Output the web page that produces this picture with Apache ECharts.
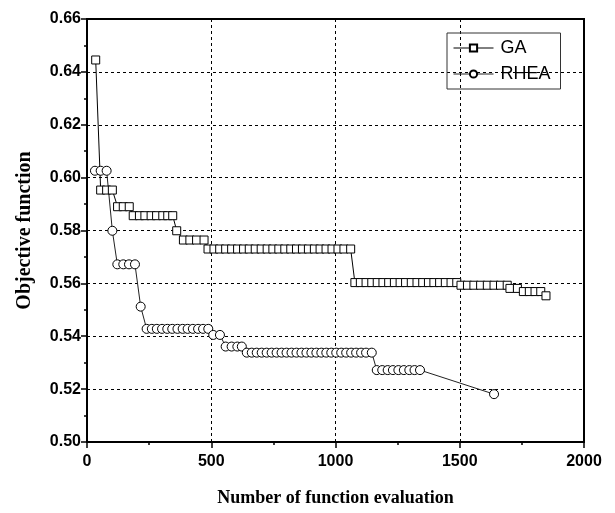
<!DOCTYPE html>
<html>
<head>
<meta charset="utf-8">
<script src="https://cdn.jsdelivr.net/npm/echarts@6/dist/echarts.min.js"></script>
<style>html,body{margin:0;padding:0;background:#fff}#c{width:615px;height:513px}</style>
</head>
<body>
<div id="c"></div>
<script>
var gaX = [35, 55, 79, 102, 123, 146, 170, 186, 211, 233, 258, 280, 305, 325, 345, 361, 388, 414, 441, 471,
  487, 511, 534, 558, 582, 606, 630, 653, 677, 701, 725, 748, 772, 796, 820, 843, 867, 891, 915, 938, 962, 986, 1010, 1034, 1061,
  1078, 1100, 1123, 1146, 1168, 1191, 1214, 1237, 1260, 1282, 1305, 1328, 1351, 1374, 1396, 1419, 1442, 1465, 1488,
  1505, 1531, 1557, 1584, 1611, 1638, 1664, 1691, 1702, 1732, 1756, 1780, 1803, 1826, 1847];
var gaY = [0.6445, 0.5953, 0.5953, 0.5953, 0.5890, 0.5890, 0.5890,
  0.5856, 0.5856, 0.5856, 0.5856, 0.5856, 0.5856, 0.5856, 0.5856, 0.5799, 0.5764, 0.5764, 0.5764, 0.5764,
  0.5730, 0.5730, 0.5730, 0.5730, 0.5730, 0.5730, 0.5730, 0.5730, 0.5730, 0.5730, 0.5730, 0.5730, 0.5730,
  0.5730, 0.5730, 0.5730, 0.5730, 0.5730, 0.5730, 0.5730, 0.5730, 0.5730, 0.5730, 0.5730, 0.5730,
  0.5603, 0.5603, 0.5603, 0.5603, 0.5603, 0.5603, 0.5603, 0.5603, 0.5603, 0.5603, 0.5603, 0.5603, 0.5603,
  0.5603, 0.5603, 0.5603, 0.5603, 0.5603, 0.5603,
  0.5593, 0.5593, 0.5593, 0.5593, 0.5593, 0.5593, 0.5593, 0.5593, 0.5581, 0.5581,
  0.5569, 0.5569, 0.5569, 0.5569, 0.5553];
var rheaX = [32, 55, 79, 102, 122, 146, 169, 193, 216,
  240, 261, 281, 302, 323, 343, 364, 385, 405, 426, 447, 467, 488, 508, 535, 558, 582, 605, 623,
  643, 663, 683, 703, 723, 743, 763, 783, 803, 823, 843, 863, 883, 903, 923, 943, 963, 983, 1003, 1023, 1043, 1063, 1083, 1103, 1123, 1146,
  1166, 1188, 1210, 1231, 1253, 1275, 1297, 1318, 1340, 1638];
var rheaY = [0.6026, 0.6026, 0.6026, 0.5799, 0.5672, 0.5672, 0.5672, 0.5672, 0.5512,
  0.5428, 0.5428, 0.5428, 0.5428, 0.5428, 0.5428, 0.5428, 0.5428, 0.5428, 0.5428, 0.5428, 0.5428, 0.5428,
  0.5405, 0.5405, 0.5361, 0.5361, 0.5361, 0.5361,
  0.5338, 0.5338, 0.5338, 0.5338, 0.5338, 0.5338, 0.5338, 0.5338, 0.5338, 0.5338, 0.5338, 0.5338, 0.5338,
  0.5338, 0.5338, 0.5338, 0.5338, 0.5338, 0.5338, 0.5338, 0.5338, 0.5338, 0.5338, 0.5338, 0.5338, 0.5338,
  0.5272, 0.5272, 0.5272, 0.5272, 0.5272, 0.5272, 0.5272, 0.5272, 0.5272, 0.5181];
var seriesNames = ['GA', 'RHEA'];
var xTitle = 'Number of function evaluation';
var yTitle = 'Objective function';

function zip(a, b) { return a.map(function (v, i) { return [v, b[i]]; }); }

var chart = echarts.init(document.getElementById('c'), null, { renderer: 'canvas' });
var tickFont = { fontFamily: 'Liberation Sans', fontWeight: 'bold', fontSize: 16, color: '#000' };
var gridLine = { show: true, lineStyle: { color: '#000', width: 1, type: [3, 3] } };
chart.setOption({
  animation: false,
  backgroundColor: '#fff',
  grid: { left: 87, top: 19, right: 31, bottom: 71, show: true, borderColor: '#000', borderWidth: 2, containLabel: false },
  legend: {
    orient: 'vertical', left: 447, top: 33, width: 114,
    padding: [6, 10, 6, 6], itemGap: 8, itemWidth: 40, itemHeight: 9,
    borderColor: '#333', borderWidth: 1,
    lineStyle: { width: 1 },
    textStyle: { fontFamily: 'Liberation Sans', fontSize: 18, color: '#000', padding: [0, 0, 0, 2] },
    data: seriesNames
  },
  xAxis: {
    type: 'value', min: 0, max: 2000, interval: 500,
    name: xTitle, nameLocation: 'middle', nameGap: 47,
    nameTextStyle: { fontFamily: 'Liberation Serif', fontWeight: 'bold', fontSize: 18, color: '#000' },
    axisLine: { show: true, lineStyle: { color: '#000', width: 2 } },
    axisTick: { show: true, inside: false, length: 6, lineStyle: { color: '#000', width: 1.5 } },
    minorTick: { show: true, splitNumber: 2, length: 3, lineStyle: { color: '#000', width: 1.5 } },
    axisLabel: Object.assign({ margin: 12, formatter: function (v) { return String(v); } }, tickFont),
    splitLine: gridLine
  },
  yAxis: {
    type: 'value', min: 0.50, max: 0.66, interval: 0.02,
    name: yTitle, nameLocation: 'middle', nameGap: 52, nameRotate: 90,
    nameTextStyle: { fontFamily: 'Liberation Serif', fontWeight: 'bold', fontSize: 20, color: '#000' },
    axisLine: { show: true, lineStyle: { color: '#000', width: 2 } },
    axisTick: { show: true, inside: false, length: 6, lineStyle: { color: '#000', width: 1.5 } },
    minorTick: { show: true, splitNumber: 2, length: 3, lineStyle: { color: '#000', width: 1.5 } },
    axisLabel: Object.assign({ margin: 6, formatter: function (v) { return v.toFixed(2); } }, tickFont),
    splitLine: gridLine
  },
  series: [
    {
      name: seriesNames[0], type: 'line', data: zip(gaX, gaY),
      symbol: 'rect', symbolSize: 8, showAllSymbol: true,
      lineStyle: { color: '#000', width: 1 },
      itemStyle: { color: '#fff', borderColor: '#000', borderWidth: 1 },
      z: 3
    },
    {
      name: seriesNames[1], type: 'line', data: zip(rheaX, rheaY),
      symbol: 'circle', symbolSize: 9, showAllSymbol: true,
      lineStyle: { color: '#222', width: 1 },
      itemStyle: { color: '#fff', borderColor: '#000', borderWidth: 1 },
      z: 3
    }
  ]
});
</script>
</body>
</html>
